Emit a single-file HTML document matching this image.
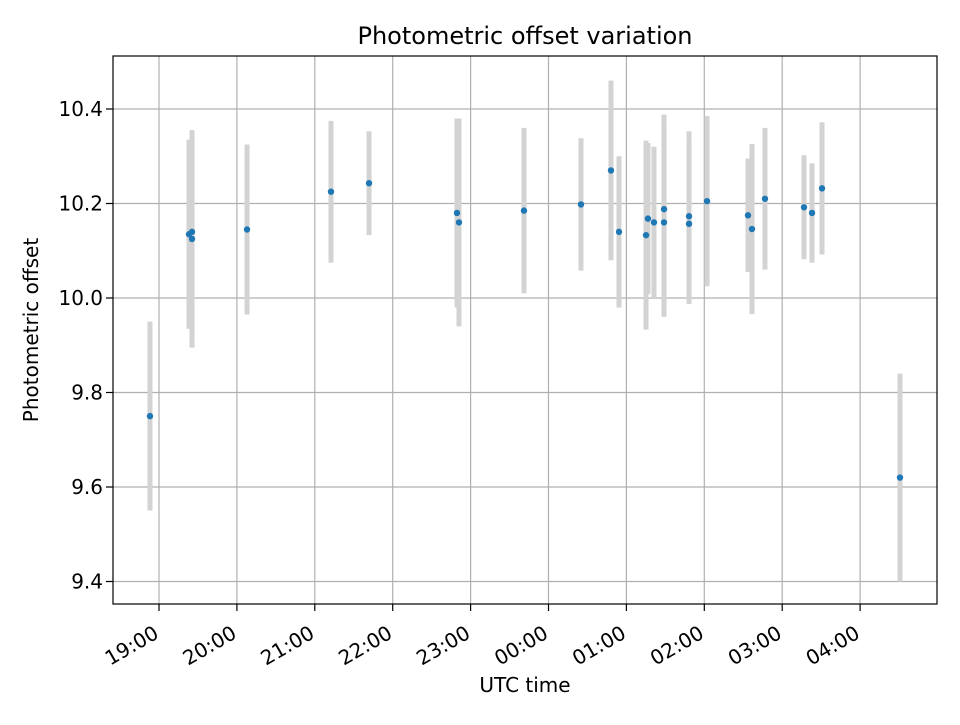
<!DOCTYPE html>
<html><head><meta charset="utf-8"><style>
body{margin:0;background:#fff;font-family:"Liberation Sans","DejaVu Sans",sans-serif}
svg text{font-family:"DejaVu Sans","Liberation Sans",sans-serif}
</style></head><body>
<svg id="chart" width="960" height="720" xmlns="http://www.w3.org/2000/svg">
<rect width="960" height="720" fill="#fff"/>
<g id="grid"></g><g id="bars"></g><g id="pts"></g><g id="ticks"></g>
<rect x="113" y="56" width="824" height="548" fill="none" stroke="#000" stroke-width="1.2"/>
<text x="525" y="44" text-anchor="middle" font-size="24">Photometric offset variation</text>
<text x="525" y="692" text-anchor="middle" font-size="20">UTC time</text>
<text x="38" y="330" text-anchor="middle" font-size="20" transform="rotate(-90 38 330)">Photometric offset</text>
</svg>
<script>
const times=[18.884,19.385,19.424,19.424,20.130,21.208,21.696,22.825,22.851,23.685,24.417,24.802,24.905,25.252,25.277,25.354,25.483,25.483,25.804,25.804,26.035,26.561,26.612,26.779,27.280,27.383,27.511,28.512];
const offsets=[9.75,10.135,10.14,10.125,10.145,10.225,10.243,10.18,10.16,10.185,10.198,10.27,10.14,10.133,10.168,10.16,10.188,10.16,10.173,10.157,10.205,10.175,10.146,10.21,10.192,10.18,10.232,9.62];
const errors=[0.2,0.2,0.215,0.23,0.18,0.15,0.11,0.2,0.22,0.175,0.14,0.19,0.16,0.2,0.16,0.16,0.2,0.2,0.18,0.17,0.18,0.12,0.18,0.15,0.11,0.105,0.14,0.22];
const yTicks=[9.4,9.6,9.8,10.0,10.2,10.4];
const xTickHours=[19,20,21,22,23,24,25,26,27,28];
const xTickLabels=["19:00","20:00","21:00","22:00","23:00","00:00","01:00","02:00","03:00","04:00"];
const NS="http://www.w3.org/2000/svg";
const L=113,R=937,T=56,B=604;
const x=h=>159+(h-19)*77.9;
const y=v=>298-(v-10)*472.5;
function mk(tag,attrs,parent){const e=document.createElementNS(NS,tag);for(const k in attrs)e.setAttribute(k,attrs[k]);document.getElementById(parent).appendChild(e);return e;}
yTicks.forEach((v,i)=>{
 const g=mk('line',{x1:L,x2:R,y1:y(v),y2:y(v),stroke:'#b0b0b0','stroke-width':1.2},'grid');
 
 
 mk('line',{x1:L-7,x2:L,y1:y(v),y2:y(v),stroke:'#000','stroke-width':1.2},'ticks');
 const t=mk('text',{x:L-10,y:y(v)+7,'text-anchor':'end','font-size':20},'ticks');
 t.textContent=v.toFixed(1);
 
 
});
xTickHours.forEach((h,i)=>{
 const g=mk('line',{x1:x(h),x2:x(h),y1:T,y2:B,stroke:'#b0b0b0','stroke-width':1.2},'grid');
 
 
 mk('line',{x1:x(h),x2:x(h),y1:B,y2:B+7,stroke:'#000','stroke-width':1.2},'ticks');
 const tx=x(h)+1,ty=B+33;
 const t=mk('text',{x:tx,y:ty,'text-anchor':'end','font-size':20,transform:`rotate(-30 ${tx} ${ty})`},'ticks');
 t.textContent=xTickLabels[i];
 
 
});
times.forEach((h,i)=>{
 const b=mk('line',{x1:x(h),x2:x(h),y1:y(offsets[i]+errors[i]),y2:y(offsets[i]-errors[i]),stroke:'#d3d3d3','stroke-width':5},'bars');
 
 
});
times.forEach((h,i)=>{
 const c=mk('circle',{cx:x(h),cy:y(offsets[i]),r:3.2,fill:'#1f77b4'},'pts');
 
 
});
</script>
</body></html>
